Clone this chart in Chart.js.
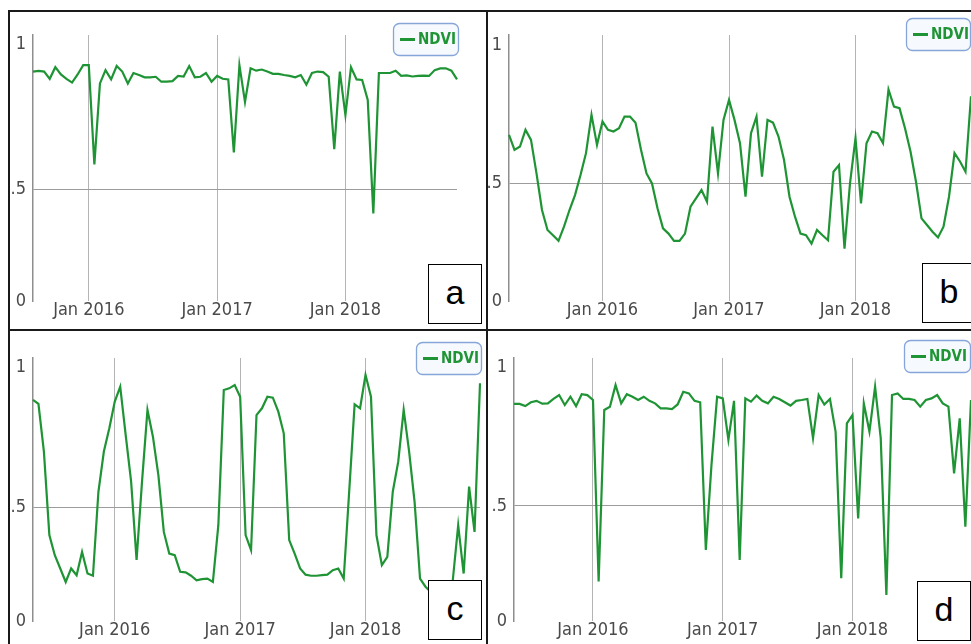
<!DOCTYPE html>
<html>
<head>
<meta charset="utf-8">
<title>NDVI panels</title>
<script src="https://cdn.jsdelivr.net/npm/chart.js@4.4.1/dist/chart.umd.min.js"></script>
<style>
  html, body { margin: 0; padding: 0; background: #fff; }
  body { width: 971px; height: 644px; position: relative; overflow: hidden; }
  .panel { position: absolute; }
  .panel canvas { display: block; }
  .frame { position: absolute; background: #1a1a1a; }
  .tag {
    position: absolute; box-sizing: border-box; width: 54px; height: 60px;
    border: 1.5px solid #000; background: #fff; color: #000;
    font: 34px "Liberation Sans", Arial, sans-serif; text-align: center; line-height: 54px;
  }
</style>
</head>
<body>

<div class="panel" style="left:10px;top:12px;width:476px;height:317px"><canvas id="chartA"></canvas></div>
<div class="panel" style="left:488px;top:12px;width:483px;height:317px"><canvas id="chartB"></canvas></div>
<div class="panel" style="left:10px;top:331px;width:476px;height:313px"><canvas id="chartC"></canvas></div>
<div class="panel" style="left:488px;top:331px;width:483px;height:313px"><canvas id="chartD"></canvas></div>

<div class="frame" style="left:8px;top:10px;width:963px;height:2px"></div>
<div class="frame" style="left:8px;top:10px;width:2px;height:634px"></div>
<div class="frame" style="left:486px;top:10px;width:2px;height:634px"></div>
<div class="frame" style="left:8px;top:329px;width:963px;height:2px"></div>

<div class="tag" style="left:428px;top:264px">a</div>
<div class="tag" style="left:922px;top:263px">b</div>
<div class="tag" style="left:428px;top:580px">c</div>
<div class="tag" style="left:917px;top:581px">d</div>

<script>
// ===== Data =====

// MODIS 16-day composite start days (day of year)
const compositeDays = [1, 17, 33, 49, 65, 81, 97, 113, 129, 145, 161, 177, 193,
  209, 225, 241, 257, 273, 289, 305, 321, 337, 353];

// first composite of each series: [year, day of year]
const startA = [2015, 209];
const startB = [2015, 97];
const startC = [2015, 129];
const startD = [2015, 145];

const ndviA = [0.905, 0.907, 0.905, 0.88, 0.92, 0.895, 0.88, 0.867, 0.895, 0.927,
  0.927, 0.585, 0.864, 0.91, 0.878, 0.924, 0.905, 0.864, 0.90, 0.893,
  0.885, 0.885, 0.887, 0.87, 0.87, 0.872, 0.89, 0.888, 0.924, 0.885,
  0.887, 0.9, 0.87, 0.89, 0.88, 0.878, 0.626, 0.927, 0.80, 0.916,
  0.908, 0.912, 0.905, 0.897, 0.897, 0.893, 0.89, 0.885, 0.893, 0.86,
  0.90, 0.905, 0.903, 0.887, 0.637, 0.905, 0.755, 0.92, 0.878, 0.876,
  0.807, 0.416, 0.9, 0.9, 0.9, 0.908, 0.89, 0.892, 0.888, 0.89,
  0.891, 0.89, 0.91, 0.916, 0.916, 0.908, 0.878];

const ndviB = [0.676, 0.622, 0.634, 0.694, 0.658, 0.537, 0.405, 0.333, 0.314, 0.294,
  0.345, 0.405, 0.459, 0.531, 0.61, 0.748, 0.64, 0.724, 0.694, 0.688,
  0.70, 0.742, 0.742, 0.72, 0.622, 0.537, 0.501, 0.411, 0.339, 0.32,
  0.294, 0.294, 0.32, 0.417, 0.447, 0.477, 0.435, 0.706, 0.537, 0.73,
  0.802, 0.73, 0.646, 0.453, 0.682, 0.742, 0.525, 0.73, 0.72, 0.67,
  0.586, 0.453, 0.381, 0.32, 0.314, 0.284, 0.333, 0.314, 0.296, 0.543,
  0.567, 0.266, 0.501, 0.664, 0.429, 0.646, 0.688, 0.682, 0.646, 0.839,
  0.778, 0.772, 0.70, 0.616, 0.507, 0.375, 0.351, 0.327, 0.306, 0.345,
  0.453, 0.61, 0.58, 0.543, 0.815];

const ndviC = [0.884, 0.87, 0.70, 0.403, 0.331, 0.284, 0.236, 0.284, 0.26, 0.343,
  0.266, 0.258, 0.557, 0.70, 0.783, 0.878, 0.931, 0.759, 0.593, 0.314,
  0.593, 0.848, 0.753, 0.616, 0.414, 0.337, 0.331, 0.272, 0.27, 0.258,
  0.242, 0.246, 0.248, 0.236, 0.438, 0.919, 0.925, 0.937, 0.895, 0.403,
  0.349, 0.83, 0.854, 0.895, 0.892, 0.842, 0.765, 0.385, 0.337, 0.284,
  0.262, 0.258, 0.258, 0.26, 0.262, 0.278, 0.284, 0.248, 0.557, 0.868,
  0.854, 0.973, 0.895, 0.403, 0.296, 0.325, 0.557, 0.664, 0.848, 0.70,
  0.521, 0.248, 0.219, 0.2, 0.19, 0.21, 0.2, 0.24, 0.438, 0.266,
  0.575, 0.414, 0.943];

const ndviD = [0.869, 0.869, 0.861, 0.875, 0.88, 0.87, 0.871, 0.887, 0.901, 0.865,
  0.895, 0.861, 0.904, 0.901, 0.883, 0.227, 0.847, 0.859, 0.937, 0.871,
  0.904, 0.895, 0.883, 0.895, 0.88, 0.871, 0.853, 0.853, 0.85, 0.867,
  0.913, 0.907, 0.88, 0.875, 0.341, 0.648, 0.895, 0.889, 0.739, 0.88,
  0.305, 0.889, 0.877, 0.899, 0.88, 0.871, 0.895, 0.887, 0.875, 0.863,
  0.88, 0.883, 0.887, 0.745, 0.901, 0.867, 0.887, 0.769, 0.239, 0.799,
  0.829, 0.455, 0.871, 0.769, 0.931, 0.745, 0.178, 0.901, 0.907, 0.887,
  0.887, 0.883, 0.859, 0.883, 0.889, 0.901, 0.871, 0.859, 0.618, 0.817,
  0.425, 0.883];

const yTickLabels = { 1: "1", 0.5: ".5", min: "0" };

// ===== Helpers =====

function compositeDates(start, n) {
  const out = [];
  let year = start[0];
  let k = compositeDays.indexOf(start[1]);
  while (out.length < n) {
    const d = new Date(Date.UTC(year, 0, compositeDays[k]));
    out.push(d.toISOString().split("T")[0]);
    k++;
    if (k >= compositeDays.length) { k = 0; year++; }
  }
  return out;
}

const TICK_FONT = { family: "'Liberation Sans Narrow', 'DejaVu Sans Condensed', Roboto, sans-serif", size: 18, lineHeight: 1 };
const GREEN = "#1f9434";

// boxed legend in the upper right, like the original chart widget
const legendBox = {
  id: "legendBox",
  afterDraw(chart, args, opts) {
    const ctx = chart.ctx;
    const ds = chart.data.datasets[0];
    const w = opts.width, h = opts.height;
    const x = Math.min(chart.chartArea.right + 1, chart.width - 1) - w;
    const y = opts.top;
    ctx.save();
    ctx.beginPath();
    ctx.roundRect(x + 0.5, y + 0.5, w, h, 6);
    ctx.fillStyle = "#f6f9fe";
    ctx.fill();
    ctx.strokeStyle = "#86a6da";
    ctx.lineWidth = 1.3;
    ctx.stroke();
    ctx.strokeStyle = ds.borderColor;
    ctx.lineWidth = 3;
    ctx.beginPath();
    ctx.moveTo(x + 7, y + h / 2 + 0.5);
    ctx.lineTo(x + 22, y + h / 2 + 0.5);
    ctx.stroke();
    ctx.fillStyle = ds.borderColor;
    ctx.font = "bold 15px 'Liberation Sans Narrow', 'DejaVu Sans Condensed', Roboto, sans-serif";
    ctx.textBaseline = "middle";
    ctx.fillText(ds.label, x + 25, y + h / 2 + 1);
    ctx.restore();
  }
};

function makeChart(id, start, values, opt) {
  const labels = compositeDates(start, values.length);
  const ctx = document.getElementById(id).getContext("2d");
  return new Chart(ctx, {
    type: "line",
    data: {
      labels: labels,
      datasets: [{
        label: "NDVI",
        data: values,
        borderColor: GREEN,
        borderWidth: 2.2,
        pointRadius: 0,
        tension: 0,
        fill: false
      }]
    },
    options: {
      responsive: true,
      maintainAspectRatio: false,
      animation: false,
      layout: { padding: { left: 0, top: opt.padTop, right: opt.padRight, bottom: 0 } },
      plugins: {
        legend: { display: false },
        tooltip: { enabled: false },
        legendBox: { top: opt.legendTop, width: opt.legendW, height: 32 }
      },
      scales: {
        x: {
          type: "category",
          offset: false,
          afterFit: s => { s.height = opt.xAxisH; },
          border: { display: false },
          grid: { drawTicks: false, color: "#b4b4b4", lineWidth: 1 },
          ticks: {
            autoSkip: false,
            maxRotation: 0,
            minRotation: 0,
            padding: 0,
            color: "#4a4a4a",
            font: TICK_FONT,
            callback: function (value) {
              const lbl = this.getLabelForValue(value);
              if (lbl.endsWith("-01-01")) return "Jan " + lbl.slice(0, 4);
              return null;
            }
          }
        },
        y: {
          min: opt.yMin,
          max: opt.yMax,
          afterFit: s => { s.width = opt.yAxisW; },
          afterBuildTicks: s => { s.ticks = [{ value: s.min }, { value: 0.5 }, { value: 1 }]; },
          border: { display: true, color: "#8e8e8e", width: 1.5 },
          grid: {
            drawTicks: false,
            color: c => (c.tick && c.tick.value === 0.5 ? "#9c9c9c" : "rgba(0,0,0,0)")
          },
          ticks: {
            padding: 7,
            color: "#4a4a4a",
            font: TICK_FONT,
            callback: v => (v === 1 ? yTickLabels[1] : v === 0.5 ? yTickLabels[0.5] : yTickLabels.min)
          }
        }
      }
    },
    plugins: [legendBox]
  });
}

// ===== Panels =====

makeChart("chartA", startA, ndviA, {
  yMin: 0.114, yMax: 1.031, yAxisW: 23, padTop: 23, padRight: 29, xAxisH: 28,
  legendTop: 11, legendW: 65
});
makeChart("chartB", startB, ndviB, {
  yMin: 0.077, yMax: 1.036, yAxisW: 21, padTop: 23, padRight: 0, xAxisH: 28,
  legendTop: 6, legendW: 64
});
makeChart("chartC", startC, ndviC, {
  yMin: 0.097, yMax: 1.033, yAxisW: 23, padTop: 27, padRight: 6, xAxisH: 23,
  legendTop: 11, legendW: 65
});
makeChart("chartD", startD, ndviD, {
  yMin: 0.084, yMax: 1.035, yAxisW: 26, padTop: 27, padRight: 0, xAxisH: 23,
  legendTop: 9, legendW: 66
});
</script>
</body>
</html>
